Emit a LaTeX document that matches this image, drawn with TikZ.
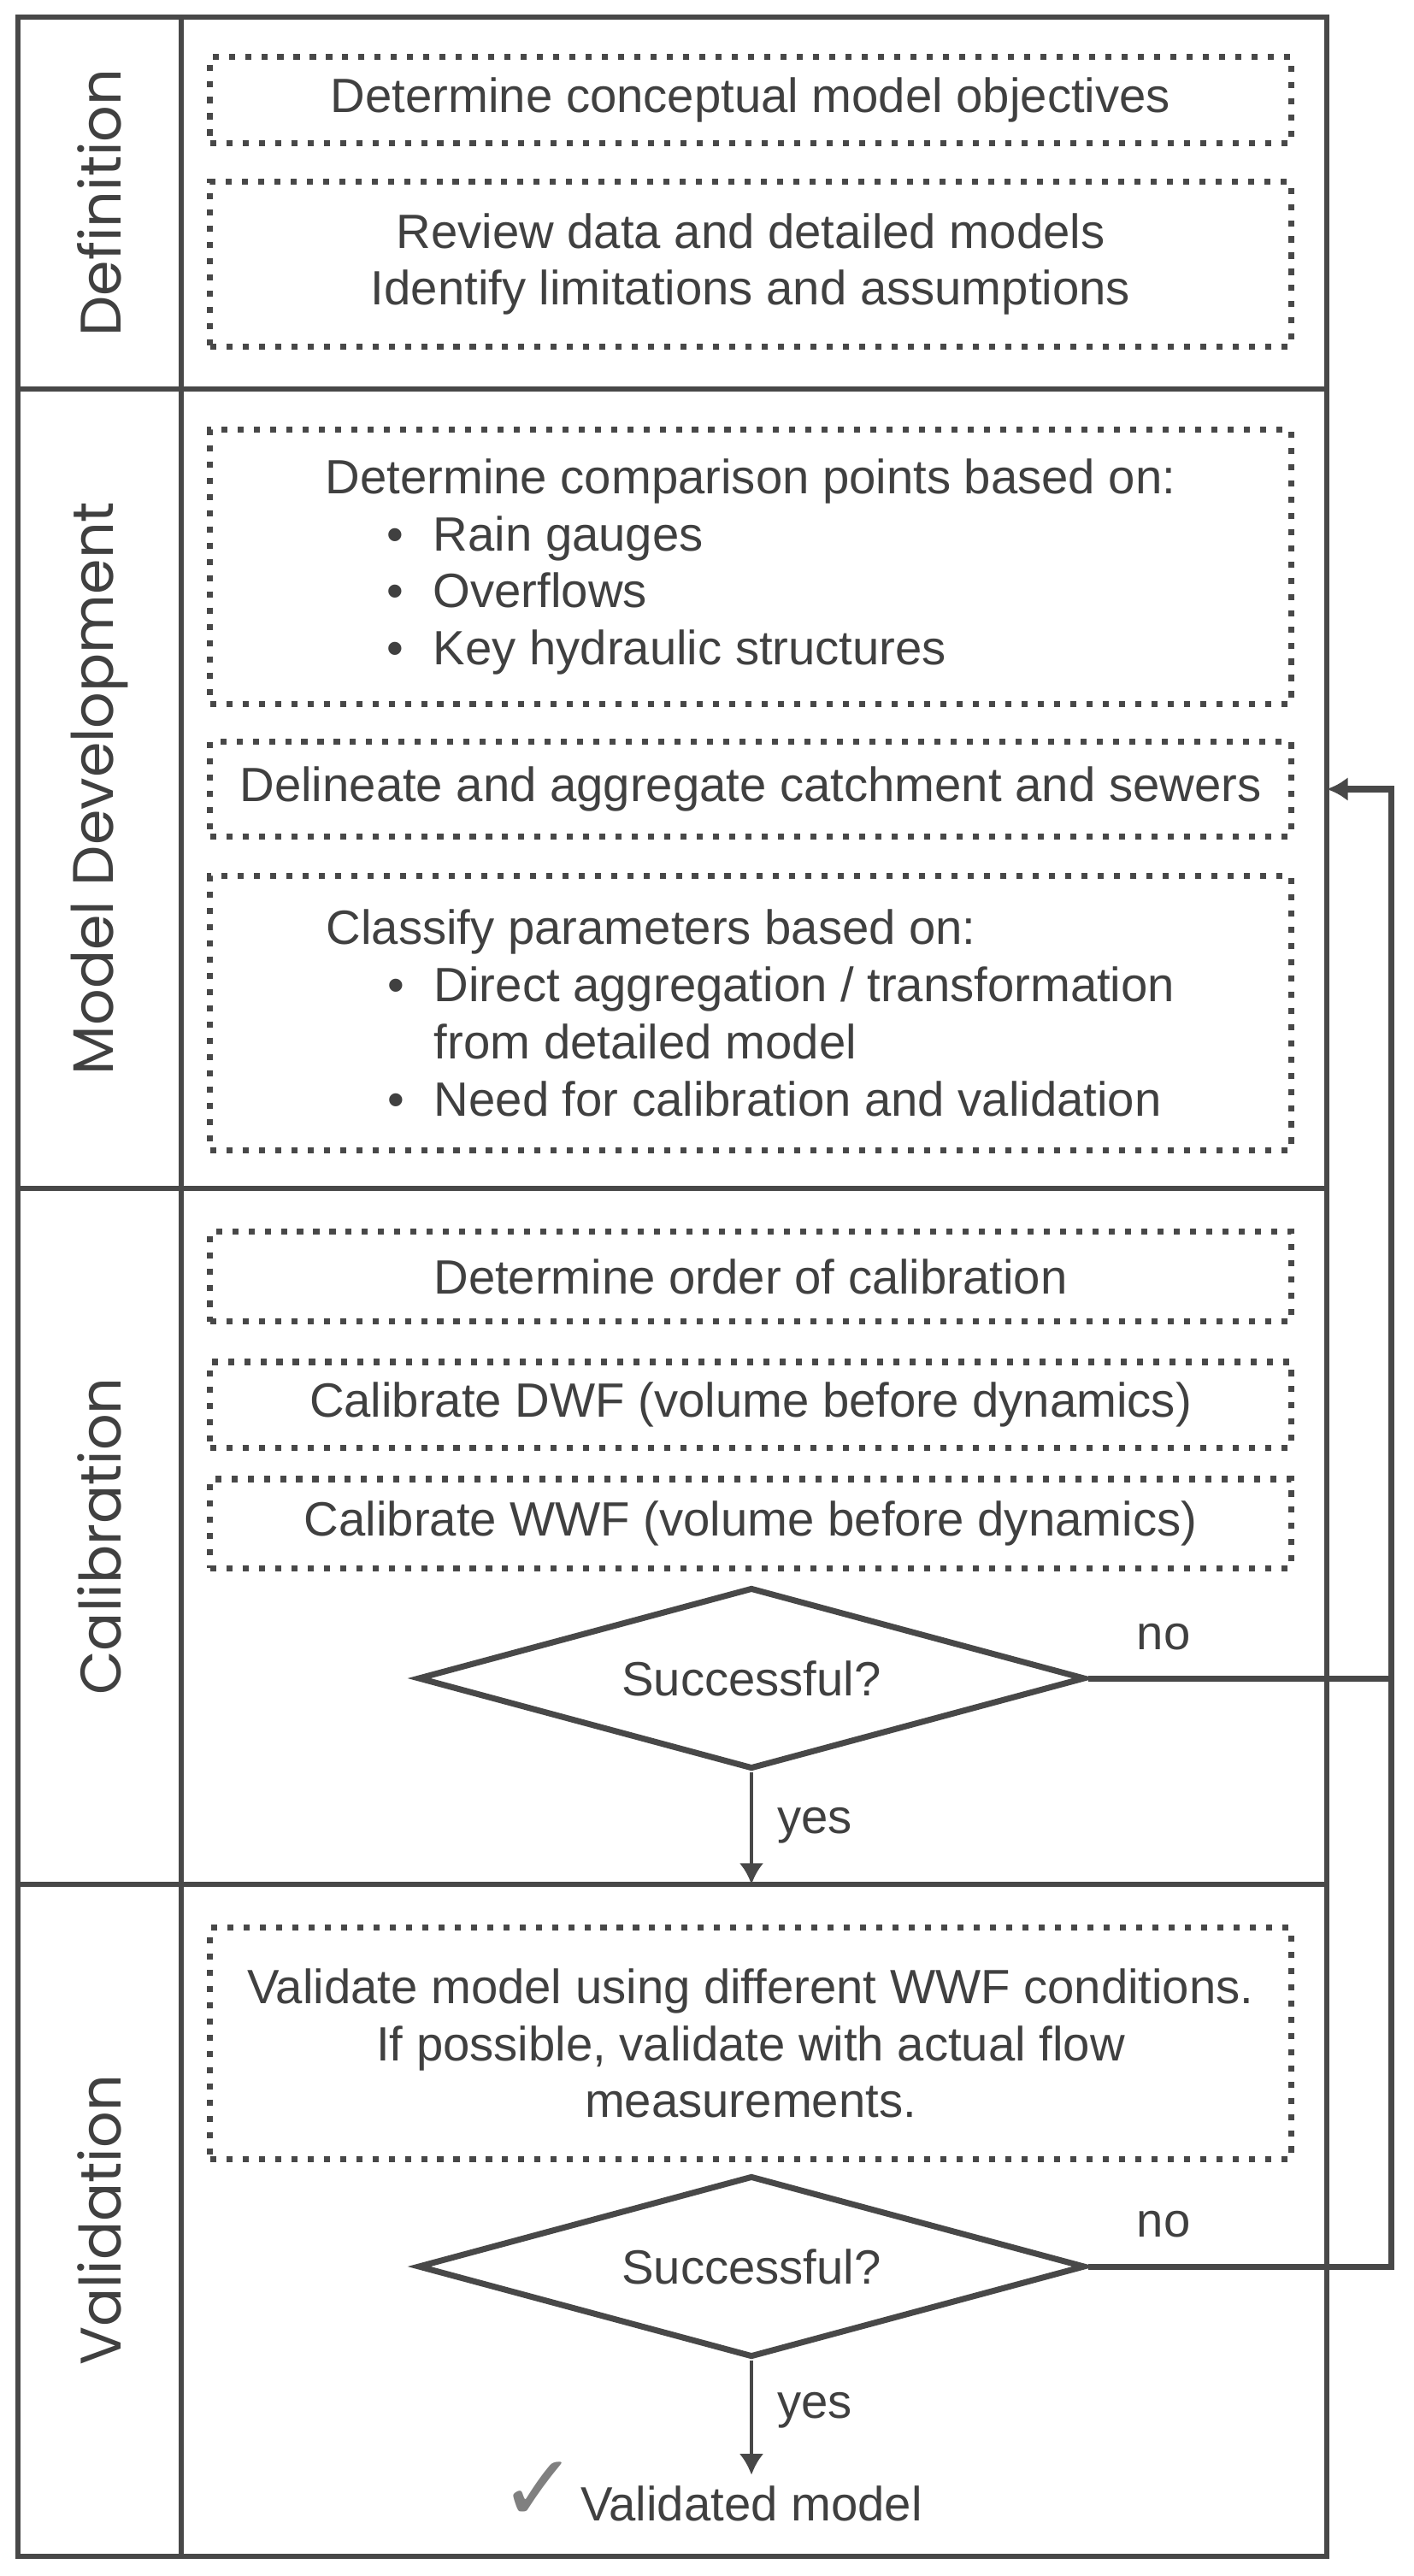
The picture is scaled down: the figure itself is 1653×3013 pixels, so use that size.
\documentclass[tikz,border=0pt]{standalone}
\usepackage{fontspec}
\setmainfont{Liberation Sans}
\newfontfamily\lanefont{Poppins}
\newfontfamily\symfont{DejaVu Sans}
\usetikzlibrary{positioning}
\usetikzlibrary{shapes.geometric}
\usetikzlibrary{arrows.meta}
\definecolor{ink}{RGB}{64,64,64}
\definecolor{rim}{RGB}{72,72,72}
\definecolor{tickgray}{RGB}{128,128,128}
\newcommand\bul{\makebox[1.26cm][l]{\hspace{0.72cm}\textbullet}}

\begin{document}
\begin{tikzpicture}[x=0.01cm,y=-0.01cm,
    every node/.style={text=ink,font=\fontsize{16}{19}\selectfont},
    task/.style={draw=rim,line width=2pt,dash pattern=on 2pt off 3.4pt,minimum width=12.64cm,inner sep=0pt},
    lane/.style={rotate=90,font=\lanefont\fontsize{19}{23}\selectfont},
    test/.style={diamond,aspect=3.68,draw=rim,line width=2pt,minimum width=7.8cm,minimum height=2.12cm,inner sep=0pt},
    rule/.style={draw=rim,line width=1.8pt},
    back/.style={draw=rim,line width=2pt},
    yesarrow/.style={draw=rim,line width=1.2pt,-{Latex[length=7pt,width=8pt]}}]
      \useasboundingbox (0,0) rectangle (1653,3013);

      \draw[rule] (21,20) rectangle (1552,2990);
      \draw[rule] (212,20) -- (212,2990);
      \coordinate (sep1) at (21,455);
      \coordinate (sep2) at (21,1390);
      \coordinate (sep3) at (21,2204);
      \coordinate (rim) at (1552,0);
      \coordinate (ret) at (1627,0);
      \draw[rule] (sep1) -- (sep1 -| rim);
      \draw[rule] (sep2) -- (sep2 -| rim);
      \draw[rule] (sep3) -- (sep3 -| rim);

      \node[lane] (def) at (116,237) {Definition};
      \node[lane] (dev) at (116,922) {Model Development};
      \node[lane] (cal) at (116,1797) {Calibration};
      \node[lane] (vld) at (116,2597) {Validation};

      \node[task,minimum height=1.01cm] (obj) at (878,117) {Determine conceptual model objectives};
      \node[task,minimum height=1.92cm,align=center] (rev) at (878,309)
        {Review data and detailed models\\Identify limitations and assumptions};
      \node[task,minimum height=3.2cm,align=left] (cmp) at (878,663)
        {Determine comparison points based on:\\\bul Rain gauges\\\bul Overflows\\\bul Key hydraulic structures};
      \node[task,minimum height=1.1cm] (del) at (878,923) {Delineate and aggregate catchment and sewers};
      \node[task,minimum height=3.2cm,align=left] (cls) at (878,1185)
        {Classify parameters based on:\\\bul Direct aggregation / transformation\\\hspace*{1.26cm}from detailed model\\\bul Need for calibration and validation};
      \node[task,minimum height=1.05cm] (ord) at (878,1493) {Determine order of calibration};
      \node[task,minimum height=1.0cm] (dwf) at (878,1643) {Calibrate DWF (volume before dynamics)};
      \node[task,minimum height=1.04cm] (wwf) at (878,1782) {Calibrate WWF (volume before dynamics)};
      \node[test] (s1) at (879,1963) {Successful?};
      \node[task,minimum height=2.7cm,align=center] (val) at (878,2390)
        {Validate model using different WWF conditions.\\If possible, validate with actual flow\\measurements.};
      \node[test] (s2) at (879,2651) {Successful?};
      \node[anchor=base] (done) at (879,2948) {Validated model};
      \node[anchor=base east,inner sep=0pt,xshift=0.1cm,text=tickgray,font=\symfont\fontsize{31}{31}\selectfont] (tick) at (done.base west) {✓};

      \node (no1) at (1361,1915) {no};
      \node (no2) at (1361,2602) {no};
      \node (yes1) at (953,2135) {yes};
      \node (yes2) at (953,2819) {yes};

      \draw[yesarrow] (s1.south) -- (s1.south |- sep3);
      \draw[yesarrow] (s2.south) -- (done.north);
      \draw[back] (s1.east) -- (s1.east -| ret);
      \draw[back,-{Latex[length=7pt,width=8pt]}] (s2.east) -- (s2.east -| ret) |- (del.center -| rim);
    \end{tikzpicture}
\end{document}
